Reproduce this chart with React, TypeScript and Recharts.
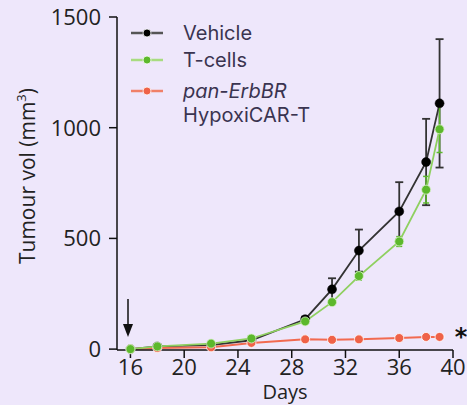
import React from 'react';
import { LineChart, Line, XAxis, YAxis, ErrorBar } from 'recharts';

// measurement days
const days = [16, 18, 22, 25, 29, 31, 33, 36, 38, 39];

// mean tumour volume (mm3) and error per group
const vehicle = [0, 12, 18, 40, 135, 270, 445, 622, 845, 1110];
const vehicleErr = [4, 5, 6, 8, 12, 50, 95, 132, 195, 290];
const tcells = [0, 12, 25, 48, 125, 212, 330, 486, 720, 993];
const tcellsErr = [3, 4, 6, 8, 10, 14, 18, 22, 60, 105];
const hypoxi = [0, 5, 8, 28, 44, 42, 44, 50, 55, 55];
const hypoxiErr = [2, 3, 3, 4, 5, 5, 5, 6, 6, 6];

const xTicks = [16, 20, 24, 28, 32, 36, 40];
const yTicks = [0, 500, 1000, 1500];

const data = days.map((d, i) => ({
  day: d,
  vehicle: vehicle[i],
  vehicleErr: vehicleErr[i],
  tcells: tcells[i],
  tcellsErr: tcellsErr[i],
  hypoxi: hypoxi[i],
  hypoxiErr: hypoxiErr[i],
}));

const BG = '#EEE7FB';
const TEXT = '#222';
const LEGEND_TEXT = '#3a3450';
const FONT = "'Open Sans', sans-serif";

const legendItems = [
  { label: 'Vehicle', line: '#555', dot: '#000', italic: false },
  { label: 'T-cells', line: '#a8dc80', dot: '#5cb82c', italic: false },
  { label: 'pan-ErbBR', line: '#f08068', dot: '#ef6248', italic: true, sub: 'HypoxiCAR-T' },
];

// plain html legend, so it does not take room from the plot
const LegendBox = () => (
  <div
    style={{
      position: 'absolute',
      top: 21,
      left: 129,
      fontFamily: 'Inter, sans-serif',
      fontSize: 20,
      color: LEGEND_TEXT,
      lineHeight: '24px',
    }}
  >
    {legendItems.map((it, i) => (
      <div key={i} style={{ display: 'flex', alignItems: 'flex-start', marginBottom: i === 0 ? 3 : 7 }}>
        <svg width={36} height={24} style={{ marginRight: 18, flex: 'none' }}>
          <line x1={2} x2={34} y1={12} y2={12} stroke={it.line} strokeWidth={2.5} />
          <circle cx={18} cy={12} r={4} fill={it.dot} stroke="#fff" strokeWidth={0.8} />
        </svg>
        <div>
          <div style={{ fontStyle: it.italic ? 'italic' : 'normal' }}>{it.label}</div>
          {it.sub && <div>{it.sub}</div>}
        </div>
      </div>
    ))}
  </div>
);

const YLabel = () => (
  <text transform="translate(35,176) rotate(-90)" textAnchor="middle" fontFamily={FONT} fontSize={21} fill={TEXT}>
    Tumour vol (mm
    <tspan fontSize={13} dy={-9}>3</tspan>
    <tspan dy={9}>)</tspan>
  </text>
);

const XLabel = (props: any) => {
  const vb = props.viewBox || { x: 117, width: 336 };
  return (
    <text x={vb.x + vb.width / 2} y={399} textAnchor="middle" fontFamily={FONT} fontSize={20} fill={TEXT}>
      Days
    </text>
  );
};

const tickStyle = { fontFamily: FONT, fontSize: 22, fill: TEXT };

export default function App() {
  return (
    <div style={{ position: 'absolute', left: 0, top: 0, width: 467, height: 405, background: BG }}>
      <LineChart width={467} height={405} data={data} margin={{ top: 17, right: 14, bottom: 25, left: 0 }}>
        <XAxis
          dataKey="day"
          type="number"
          domain={[15, 40]}
          ticks={xTicks}
          tick={tickStyle}
          tickSize={8}
          tickMargin={1}
          height={30}
          stroke="#111"
          strokeWidth={1.5}
          label={<XLabel />}
        />
        <YAxis
          type="number"
          domain={[0, 1500]}
          ticks={yTicks}
          tick={tickStyle}
          tickSize={8}
          tickMargin={8}
          width={117}
          stroke="#111"
          strokeWidth={1.5}
          label={<YLabel />}
        />
        <Line
          dataKey="vehicle"
          stroke="#333"
          strokeWidth={1.8}
          dot={{ r: 4.5, fill: '#000', stroke: '#000', strokeWidth: 0.5 }}
          isAnimationActive={false}
        >
          <ErrorBar dataKey="vehicleErr" direction="y" width={4} stroke="#333" strokeWidth={1.8} />
        </Line>
        <Line
          dataKey="hypoxi"
          stroke="#f26a50"
          strokeWidth={2}
          dot={{ r: 4.5, fill: '#ef6248', stroke: '#fff', strokeWidth: 0.8 }}
          isAnimationActive={false}
        >
          <ErrorBar dataKey="hypoxiErr" direction="y" width={3} stroke="#f26a50" strokeWidth={1.5} />
        </Line>
        <Line
          dataKey="tcells"
          stroke="#8fd060"
          strokeWidth={1.8}
          dot={{ r: 4.5, fill: '#5cb82c', stroke: '#d8f0c8', strokeWidth: 0.8 }}
          isAnimationActive={false}
        >
          <ErrorBar dataKey="tcellsErr" direction="y" width={3} stroke="#5cb82c" strokeWidth={1.5} />
        </Line>
      </LineChart>
      <LegendBox />
      <svg width={467} height={405} style={{ position: 'absolute', left: 0, top: 0, pointerEvents: 'none' }}>
        <line x1={128} x2={128} y1={299} y2={325} stroke="#111" strokeWidth={1.5} />
        <polygon points="123,324 133,324 128,337" fill="#111" />
        <text x={461} y={345} textAnchor="middle" fontFamily="'DejaVu Sans', sans-serif" fontSize={24} fontWeight="bold" fill="#111">
          *
        </text>
      </svg>
    </div>
  );
}
